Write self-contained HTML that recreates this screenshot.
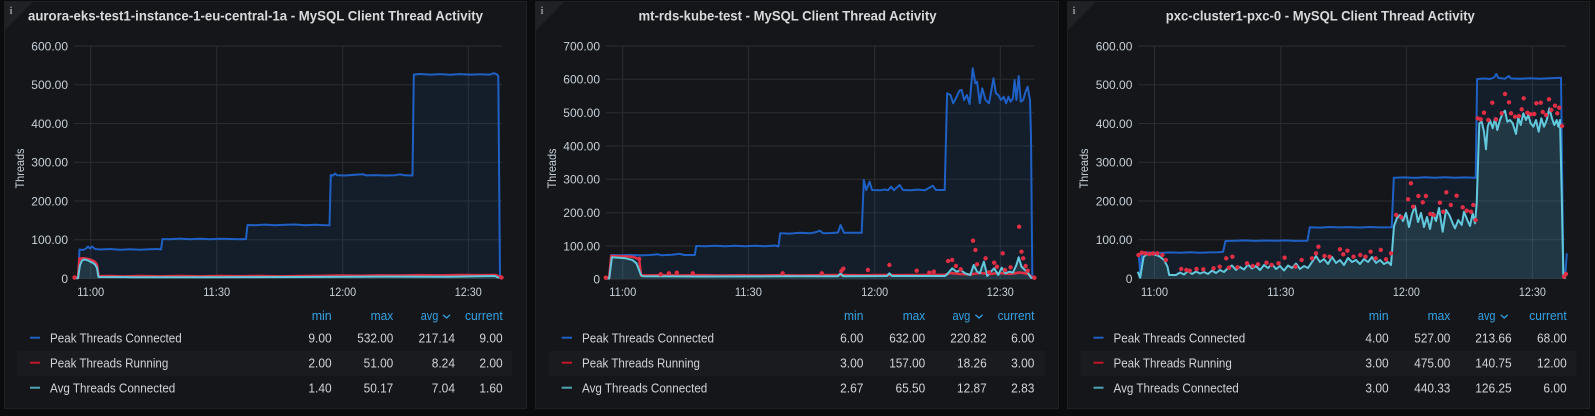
<!DOCTYPE html>
<html><head><meta charset="utf-8"><style>
html,body{margin:0;padding:0;background:#0b0c0e;}
svg{display:block;font-family:"Liberation Sans",sans-serif;}
.t{font-size:14px;font-weight:bold;fill:#d8d9da;}
.yl{font-size:12px;fill:#c7d0d9;text-anchor:end;}
.xl{font-size:12px;fill:#c7d0d9;text-anchor:middle;}
.hd{font-size:13px;fill:#33a2e5;text-anchor:end;}
.nm{font-size:13px;fill:#d0d3d8;}
.v{font-size:13px;fill:#d0d3d8;text-anchor:end;}
.g{stroke:#2b2d31;stroke-width:1;}
.bl{fill:none;stroke:#1f60c4;stroke-width:2;stroke-linejoin:round;}
.ba{fill:#1f60c4;fill-opacity:0.1;stroke:none;}
.cl{fill:none;stroke:#62c8dc;stroke-width:2;stroke-linejoin:round;}
.ca{fill:#6ed0e0;fill-opacity:0.15;stroke:none;}
.rl{fill:none;stroke:#e02f44;stroke-width:2.6;stroke-linejoin:round;}
.rd circle{fill:#e02f44;}
.ic{font-family:"Liberation Serif",serif;font-size:11px;fill:#8e939b;font-weight:bold;}
</style></head><body>
<svg width="1595" height="416" viewBox="0 0 1595 416" xmlns="http://www.w3.org/2000/svg">
<rect x="0" y="0" width="1595" height="416" fill="#0b0c0e"/>
<!-- panels -->
<rect x="4.5" y="1.5" width="522" height="407" fill="#141619" stroke="#1e2024"/>
<rect x="535.5" y="1.5" width="523" height="407" fill="#141619" stroke="#1e2024"/>
<rect x="1067.5" y="1.5" width="522" height="407" fill="#141619" stroke="#1e2024"/>
<polygon points="5,2 33,2 5,30" fill="#1f2125"/>
<polygon points="536,2 564,2 536,30" fill="#1f2125"/>
<polygon points="1068,2 1096,2 1068,30" fill="#1f2125"/>
<text class="ic" x="9.5" y="14">i</text>
<text class="ic" x="540.5" y="14">i</text>
<text class="ic" x="1072.5" y="14">i</text>

<!-- titles -->
<text class="t" x="28" y="20.5" textLength="455" lengthAdjust="spacingAndGlyphs">aurora-eks-test1-instance-1-eu-central-1a - MySQL Client Thread Activity</text>
<text class="t" x="638.5" y="20.5" textLength="298" lengthAdjust="spacingAndGlyphs">mt-rds-kube-test - MySQL Client Thread Activity</text>
<text class="t" x="1165.8" y="20.5" textLength="309" lengthAdjust="spacingAndGlyphs">pxc-cluster1-pxc-0 - MySQL Client Thread Activity</text>

<!-- ===== PANEL 1 ===== -->
<g class="g">
<line x1="74" y1="46" x2="502" y2="46"/><line x1="74" y1="84.75" x2="502" y2="84.75"/><line x1="74" y1="123.5" x2="502" y2="123.5"/><line x1="74" y1="162.25" x2="502" y2="162.25"/><line x1="74" y1="201" x2="502" y2="201"/><line x1="74" y1="239.75" x2="502" y2="239.75"/><line x1="74" y1="278.5" x2="502" y2="278.5"/>
<line x1="90.7" y1="46" x2="90.7" y2="278.5"/><line x1="216.7" y1="46" x2="216.7" y2="278.5"/><line x1="342.7" y1="46" x2="342.7" y2="278.5"/><line x1="468.3" y1="46" x2="468.3" y2="278.5"/>
</g>
<text class="yl" x="68" y="50.3">600.00</text><text class="yl" x="68" y="89">500.00</text><text class="yl" x="68" y="127.8">400.00</text><text class="yl" x="68" y="166.5">300.00</text><text class="yl" x="68" y="205.3">200.00</text><text class="yl" x="68" y="244">100.00</text><text class="yl" x="68" y="282.8">0</text>
<text class="xl" x="90.7" y="296" textLength="27" lengthAdjust="spacingAndGlyphs">11:00</text><text class="xl" x="216.7" y="296" textLength="27" lengthAdjust="spacingAndGlyphs">11:30</text><text class="xl" x="342.7" y="296" textLength="27" lengthAdjust="spacingAndGlyphs">12:00</text><text class="xl" x="468.3" y="296" textLength="27" lengthAdjust="spacingAndGlyphs">12:30</text>
<text x="20" y="168.5" font-size="12" fill="#c7d0d9" text-anchor="middle" dominant-baseline="central" transform="rotate(-90 20 168.5)" textLength="40" lengthAdjust="spacingAndGlyphs">Threads</text>

<path class="ba" d="M74,278 L78,278 L79.5,249.5 L83,250 L86,248.5 L88,246.5 L90,248.5 L92,246.5 L95,249 L100,249.5 L110,249 L120,249.8 L130,249.3 L140,249.8 L150,249.3 L158,249 L161,249.5 L162.5,239 L170,239.3 L180,238.6 L190,239.2 L200,238.7 L210,239.2 L220,238.8 L230,239 L240,239.3 L246,239 L247.5,225 L255,225.3 L265,224.6 L275,225.2 L285,224.8 L295,224.5 L305,225.2 L315,224.8 L325,225.3 L329.5,225.3 L330.8,175 L333,175.6 L335,173.6 L337,175.3 L345,175.5 L355,174.8 L363,174.2 L366,175.4 L375,175.1 L385,175.5 L395,175.2 L400,174.4 L405,175.3 L412.5,175.5 L413.8,74.6 L420,74 L430,74.6 L440,74.1 L450,74.7 L460,74.1 L470,74.6 L480,74.2 L490,74.6 L494,73.2 L497,74.4 L498.3,76 L500,278 L502,278.5 L74,278.5 Z"/>
<path class="ca" d="M74,278.2 L78,278.2 L80,265 L82,260.5 L84,259.5 L87,260 L90,261.5 L93,263 L95,264.5 L97,268 L98.5,277 L130,277.2 L200,277.3 L300,277 L400,276.6 L450,276.8 L480,276.2 L495,276 L499,278 L499,278.5 L74,278.5 Z"/>
<path class="bl" d="M74,278 L78,278 L79.5,249.5 L83,250 L86,248.5 L88,246.5 L90,248.5 L92,246.5 L95,249 L100,249.5 L110,249 L120,249.8 L130,249.3 L140,249.8 L150,249.3 L158,249 L161,249.5 L162.5,239 L170,239.3 L180,238.6 L190,239.2 L200,238.7 L210,239.2 L220,238.8 L230,239 L240,239.3 L246,239 L247.5,225 L255,225.3 L265,224.6 L275,225.2 L285,224.8 L295,224.5 L305,225.2 L315,224.8 L325,225.3 L329.5,225.3 L330.8,175 L333,175.6 L335,173.6 L337,175.3 L345,175.5 L355,174.8 L363,174.2 L366,175.4 L375,175.1 L385,175.5 L395,175.2 L400,174.4 L405,175.3 L412.5,175.5 L413.8,74.6 L420,74 L430,74.6 L440,74.1 L450,74.7 L460,74.1 L470,74.6 L480,74.2 L490,74.6 L494,73.2 L497,74.4 L498.3,76 L500,278 L502,278.3"/>
<path class="rl" d="M74,277.5 L78,277.5 L79.5,258.5 L84,258.3 L88,259 L92,260.2 L95,262 L97,265 L98.5,276.3 L110,276.1 L125,276.5 L140,276 L160,276.4 L180,276.1 L200,276.4 L220,276 L240,276.3 L260,276 L280,276.4 L300,276 L320,275.9 L340,275.6 L360,275.8 L380,275.4 L400,275.6 L420,275.2 L440,275.4 L460,275 L480,275.2 L496,275 L498.5,276.5 L501,277.6"/>
<path class="cl" d="M74,278.2 L78,278.2 L80,265 L82,260.5 L84,259.5 L87,260 L90,261.5 L93,263 L95,264.5 L97,268 L98.5,277 L130,277.2 L200,277.3 L300,277 L400,276.6 L450,276.8 L480,276.2 L495,276 L499,278"/>
<g class="rd"><circle cx="501.5" cy="277.5" r="2.2"/><circle cx="74.5" cy="277.5" r="2.2"/></g>

<!-- legend P1 -->
<rect x="17" y="351" width="495" height="25" fill="#1a1b1f"/>
<text class="hd" x="331.7" y="320" textLength="20" lengthAdjust="spacingAndGlyphs">min</text>
<text class="hd" x="393.3" y="320" textLength="22.7" lengthAdjust="spacingAndGlyphs">max</text>
<text class="hd" x="438.3" y="320" textLength="17.6" lengthAdjust="spacingAndGlyphs">avg</text>
<path d="M443,314.8 L446.5,318 L450,314.8" fill="none" stroke="#33a2e5" stroke-width="1.3"/>
<text class="hd" x="502.7" y="320" textLength="37.7" lengthAdjust="spacingAndGlyphs">current</text>
<line x1="30" y1="337.7" x2="40" y2="337.7" stroke="#1f60c4" stroke-width="2"/>
<line x1="30" y1="362.7" x2="40" y2="362.7" stroke="#c4162a" stroke-width="2"/>
<line x1="30" y1="387.7" x2="40" y2="387.7" stroke="#4fa5b5" stroke-width="2"/>
<text class="nm" x="50" y="342.4" textLength="131.7" lengthAdjust="spacingAndGlyphs">Peak Threads Connected</text>
<text class="nm" x="50" y="367.4" textLength="118.3" lengthAdjust="spacingAndGlyphs">Peak Threads Running</text>
<text class="nm" x="50" y="392.4" textLength="125.3" lengthAdjust="spacingAndGlyphs">Avg Threads Connected</text>
<text class="v" x="331.7" y="342.4" textLength="23.3" lengthAdjust="spacingAndGlyphs">9.00</text>
<text class="v" x="393.3" y="342.4" textLength="36" lengthAdjust="spacingAndGlyphs">532.00</text>
<text class="v" x="455" y="342.4" textLength="36.5" lengthAdjust="spacingAndGlyphs">217.14</text>
<text class="v" x="502.7" y="342.4" textLength="23.3" lengthAdjust="spacingAndGlyphs">9.00</text>
<text class="v" x="331.7" y="367.4" textLength="23.3" lengthAdjust="spacingAndGlyphs">2.00</text>
<text class="v" x="393.3" y="367.4" textLength="29.7" lengthAdjust="spacingAndGlyphs">51.00</text>
<text class="v" x="455" y="367.4" textLength="23.3" lengthAdjust="spacingAndGlyphs">8.24</text>
<text class="v" x="502.7" y="367.4" textLength="23.3" lengthAdjust="spacingAndGlyphs">2.00</text>
<text class="v" x="331.7" y="392.4" textLength="23.3" lengthAdjust="spacingAndGlyphs">1.40</text>
<text class="v" x="393.3" y="392.4" textLength="29.7" lengthAdjust="spacingAndGlyphs">50.17</text>
<text class="v" x="455" y="392.4" textLength="23.3" lengthAdjust="spacingAndGlyphs">7.04</text>
<text class="v" x="502.7" y="392.4" textLength="23.3" lengthAdjust="spacingAndGlyphs">1.60</text>

<!-- ===== PANEL 2 ===== -->
<g class="g">
<line x1="605.8" y1="46" x2="1034.4" y2="46"/><line x1="605.8" y1="79.3" x2="1034.4" y2="79.3"/><line x1="605.8" y1="112.7" x2="1034.4" y2="112.7"/><line x1="605.8" y1="146" x2="1034.4" y2="146"/><line x1="605.8" y1="179.3" x2="1034.4" y2="179.3"/><line x1="605.8" y1="212.7" x2="1034.4" y2="212.7"/><line x1="605.8" y1="246" x2="1034.4" y2="246"/><line x1="605.8" y1="279.3" x2="1034.4" y2="279.3"/>
<line x1="622.8" y1="46" x2="622.8" y2="279.3"/><line x1="748.4" y1="46" x2="748.4" y2="279.3"/><line x1="874.7" y1="46" x2="874.7" y2="279.3"/><line x1="1000.3" y1="46" x2="1000.3" y2="279.3"/>
</g>
<text class="yl" x="600" y="50.3">700.00</text><text class="yl" x="600" y="83.6">600.00</text><text class="yl" x="600" y="117">500.00</text><text class="yl" x="600" y="150.3">400.00</text><text class="yl" x="600" y="183.6">300.00</text><text class="yl" x="600" y="217">200.00</text><text class="yl" x="600" y="250.3">100.00</text><text class="yl" x="600" y="283.6">0</text>
<text class="xl" x="622.8" y="296" textLength="27" lengthAdjust="spacingAndGlyphs">11:00</text><text class="xl" x="748.4" y="296" textLength="27" lengthAdjust="spacingAndGlyphs">11:30</text><text class="xl" x="874.7" y="296" textLength="27" lengthAdjust="spacingAndGlyphs">12:00</text><text class="xl" x="1000.3" y="296" textLength="27" lengthAdjust="spacingAndGlyphs">12:30</text>
<text x="551.8" y="168.5" font-size="12" fill="#c7d0d9" text-anchor="middle" dominant-baseline="central" transform="rotate(-90 551.8 168.5)" textLength="40" lengthAdjust="spacingAndGlyphs">Threads</text>

<path class="ba" d="M605.8,278 L609.2,278 L611.2,255 L620,255.3 L630,254.9 L640,255.4 L650,255 L658,254.3 L662,255.3 L672,254.7 L680,253.8 L684,255 L694.8,255 L696.2,246 L705,246.3 L715,245.7 L725,246.2 L735,245.8 L745,246.3 L755,245.8 L765,246.2 L775,245.5 L778.5,246.5 L780.2,233.3 L790,233.6 L800,232.8 L810,233.3 L815,232.4 L820,230.7 L823,233.3 L832,233 L838,232.5 L840.6,225 L844,232.7 L852,232.7 L861.7,232.7 L863.8,180 L866.2,190 L869.6,181.7 L872,190 L880,190.3 L885,189.5 L888,190.3 L891.1,186.7 L894,190.2 L899.6,185 L903,190 L910,190.3 L918,189.6 L925,190.2 L932.7,185.7 L936,190 L944.7,190 L947.1,93.3 L950.5,95 L953.2,103.3 L956.6,96.7 L959.4,90.7 L961.7,90 L964.1,100 L966.9,95 L969.6,104 L972.7,68.3 L975.4,83.3 L977.1,81.7 L979.8,103.3 L982.2,88.3 L985.6,100 L989,103.3 L991.4,90 L993.5,78.3 L995.9,93.3 L998.3,95 L1001,100 L1003.7,96.7 L1006.1,103.3 L1008.5,96.7 L1010.6,101.7 L1012.9,98.3 L1014.6,80 L1016.4,100 L1018.7,76 L1020.8,101.7 L1023.2,100 L1025.6,91.7 L1027.6,86.7 L1030,100 L1031,136.7 L1032.3,278 L1034.4,279 L605.8,279 Z"/>
<path class="ca" d="M605.8,278.5 L609.2,278.5 L611.9,257.3 L618.7,257.7 L625.6,258.3 L632.4,260 L636.5,263.3 L641,275 L642.6,276.3 L700,276.5 L780,276.3 L838,276.2 L840.6,273.3 L843,276.2 L887,276 L889.4,273.3 L892,276 L945,276 L947.1,274.3 L952.2,268.3 L956.6,271.7 L960.7,270 L965.1,273.3 L970.3,275 L973.7,265 L977.1,271.7 L979.8,273.3 L983.9,261.7 L987.3,276 L990.8,271.7 L994.2,268.3 L998.3,275 L1001.7,267.7 L1005.4,273.3 L1009.5,271.7 L1012.9,272.7 L1016.4,265 L1018.7,257.3 L1021.5,266.7 L1024.9,270 L1028.3,273.3 L1031,277.7 L1034.4,279 L605.8,279 Z"/>
<path class="bl" d="M605.8,278 L609.2,278 L611.2,255 L620,255.3 L630,254.9 L640,255.4 L650,255 L658,254.3 L662,255.3 L672,254.7 L680,253.8 L684,255 L694.8,255 L696.2,246 L705,246.3 L715,245.7 L725,246.2 L735,245.8 L745,246.3 L755,245.8 L765,246.2 L775,245.5 L778.5,246.5 L780.2,233.3 L790,233.6 L800,232.8 L810,233.3 L815,232.4 L820,230.7 L823,233.3 L832,233 L838,232.5 L840.6,225 L844,232.7 L852,232.7 L861.7,232.7 L863.8,180 L866.2,190 L869.6,181.7 L872,190 L880,190.3 L885,189.5 L888,190.3 L891.1,186.7 L894,190.2 L899.6,185 L903,190 L910,190.3 L918,189.6 L925,190.2 L932.7,185.7 L936,190 L944.7,190 L947.1,93.3 L950.5,95 L953.2,103.3 L956.6,96.7 L959.4,90.7 L961.7,90 L964.1,100 L966.9,95 L969.6,104 L972.7,68.3 L975.4,83.3 L977.1,81.7 L979.8,103.3 L982.2,88.3 L985.6,100 L989,103.3 L991.4,90 L993.5,78.3 L995.9,93.3 L998.3,95 L1001,100 L1003.7,96.7 L1006.1,103.3 L1008.5,96.7 L1010.6,101.7 L1012.9,98.3 L1014.6,80 L1016.4,100 L1018.7,76 L1020.8,101.7 L1023.2,100 L1025.6,91.7 L1027.6,86.7 L1030,100 L1031,136.7 L1032.3,278 L1034.4,278"/>
<path class="rl" d="M605.8,277.7 L609.2,277.7 L611.2,256 L620,256.3 L628,256.5 L632.4,256.8 L636,258 L639.2,259.5 L641,275.5 L660,275.3 L680,275.6 L700,275.2 L720,275.5 L740,275.3 L760,275.6 L780,275.2 L800,275.5 L820,275.2 L840,275 L860,275.3 L880,275 L900,275.2 L920,275 L945,274.8 L950,273 L960,274 L970,274.5 L980,273 L990,274 L1000,273 L1010,274 L1020,272.5 L1028,274 L1031,276.5 L1034.4,277.7"/>
<path class="cl" d="M605.8,278.5 L609.2,278.5 L611.9,257.3 L618.7,257.7 L625.6,258.3 L632.4,260 L636.5,263.3 L641,275 L642.6,276.3 L700,276.5 L780,276.3 L838,276.2 L840.6,273.3 L843,276.2 L887,276 L889.4,273.3 L892,276 L945,276 L947.1,274.3 L952.2,268.3 L956.6,271.7 L960.7,270 L965.1,273.3 L970.3,275 L973.7,265 L977.1,271.7 L979.8,273.3 L983.9,261.7 L987.3,276 L990.8,271.7 L994.2,268.3 L998.3,275 L1001.7,267.7 L1005.4,273.3 L1009.5,271.7 L1012.9,272.7 L1016.4,265 L1018.7,257.3 L1021.5,266.7 L1024.9,270 L1028.3,273.3 L1031,277.7 L1034.4,278"/>
<g class="rd">
<circle cx="660.7" cy="274.3" r="2.2"/><circle cx="668.9" cy="273.3" r="2.2"/><circle cx="676.8" cy="272.7" r="2.2"/><circle cx="692.8" cy="273.3" r="2.2"/><circle cx="782.6" cy="273.3" r="2.2"/><circle cx="821.8" cy="273.3" r="2.2"/><circle cx="841.3" cy="271" r="2.2"/><circle cx="843.3" cy="268.7" r="2.2"/><circle cx="867.9" cy="270" r="2.2"/><circle cx="889.4" cy="265" r="2.2"/><circle cx="916.7" cy="270.7" r="2.2"/><circle cx="929.3" cy="272.7" r="2.2"/><circle cx="933.8" cy="271.7" r="2.2"/><circle cx="948.1" cy="261" r="2.2"/><circle cx="952.2" cy="260" r="2.2"/><circle cx="955.9" cy="266" r="2.2"/><circle cx="960.7" cy="269.3" r="2.2"/><circle cx="973" cy="240.7" r="2.2"/><circle cx="975.4" cy="250" r="2.2"/><circle cx="977.1" cy="264.3" r="2.2"/><circle cx="985.6" cy="258.3" r="2.2"/><circle cx="989" cy="272.3" r="2.2"/><circle cx="994.2" cy="262.7" r="2.2"/><circle cx="996.9" cy="266.7" r="2.2"/><circle cx="1002.7" cy="253.3" r="2.2"/><circle cx="1005.1" cy="270" r="2.2"/><circle cx="1010.6" cy="267.3" r="2.2"/><circle cx="1019.1" cy="226.7" r="2.2"/><circle cx="1021.5" cy="251.7" r="2.2"/><circle cx="1023.2" cy="258.3" r="2.2"/><circle cx="1025.6" cy="266" r="2.2"/><circle cx="1027.6" cy="270.7" r="2.2"/><circle cx="1034.4" cy="277.7" r="2.2"/><circle cx="605.8" cy="277.7" r="2.2"/><circle cx="639.2" cy="259" r="2.2"/>
</g>

<!-- legend P2 -->
<rect x="548.8" y="351" width="496" height="25" fill="#1a1b1f"/>
<text class="hd" x="863.4" y="320" textLength="19.4" lengthAdjust="spacingAndGlyphs">min</text>
<text class="hd" x="925.2" y="320" textLength="22.5" lengthAdjust="spacingAndGlyphs">max</text>
<text class="hd" x="970.3" y="320" textLength="17.8" lengthAdjust="spacingAndGlyphs">avg</text>
<path d="M975.4,314.8 L979,318 L982.6,314.8" fill="none" stroke="#33a2e5" stroke-width="1.3"/>
<text class="hd" x="1034.4" y="320" textLength="36.8" lengthAdjust="spacingAndGlyphs">current</text>
<line x1="561.7" y1="337.7" x2="572" y2="337.7" stroke="#1f60c4" stroke-width="2"/>
<line x1="561.7" y1="362.7" x2="572" y2="362.7" stroke="#c4162a" stroke-width="2"/>
<line x1="561.7" y1="387.7" x2="572" y2="387.7" stroke="#4fa5b5" stroke-width="2"/>
<text class="nm" x="582" y="342.4" textLength="132" lengthAdjust="spacingAndGlyphs">Peak Threads Connected</text>
<text class="nm" x="582" y="367.4" textLength="118" lengthAdjust="spacingAndGlyphs">Peak Threads Running</text>
<text class="nm" x="582" y="392.4" textLength="125.3" lengthAdjust="spacingAndGlyphs">Avg Threads Connected</text>
<text class="v" x="863.4" y="342.4" textLength="23.3" lengthAdjust="spacingAndGlyphs">6.00</text>
<text class="v" x="925.2" y="342.4" textLength="36" lengthAdjust="spacingAndGlyphs">632.00</text>
<text class="v" x="986.7" y="342.4" textLength="36.5" lengthAdjust="spacingAndGlyphs">220.82</text>
<text class="v" x="1034.4" y="342.4" textLength="23.3" lengthAdjust="spacingAndGlyphs">6.00</text>
<text class="v" x="863.4" y="367.4" textLength="23.3" lengthAdjust="spacingAndGlyphs">3.00</text>
<text class="v" x="925.2" y="367.4" textLength="36" lengthAdjust="spacingAndGlyphs">157.00</text>
<text class="v" x="986.7" y="367.4" textLength="29.7" lengthAdjust="spacingAndGlyphs">18.26</text>
<text class="v" x="1034.4" y="367.4" textLength="23.3" lengthAdjust="spacingAndGlyphs">3.00</text>
<text class="v" x="863.4" y="392.4" textLength="23.3" lengthAdjust="spacingAndGlyphs">2.67</text>
<text class="v" x="925.2" y="392.4" textLength="29.7" lengthAdjust="spacingAndGlyphs">65.50</text>
<text class="v" x="986.7" y="392.4" textLength="29.7" lengthAdjust="spacingAndGlyphs">12.87</text>
<text class="v" x="1034.4" y="392.4" textLength="23.3" lengthAdjust="spacingAndGlyphs">2.83</text>

<!-- ===== PANEL 3 ===== -->
<g class="g">
<line x1="1138.5" y1="46" x2="1565.8" y2="46"/><line x1="1138.5" y1="84.75" x2="1565.8" y2="84.75"/><line x1="1138.5" y1="123.5" x2="1565.8" y2="123.5"/><line x1="1138.5" y1="162.25" x2="1565.8" y2="162.25"/><line x1="1138.5" y1="201" x2="1565.8" y2="201"/><line x1="1138.5" y1="239.75" x2="1565.8" y2="239.75"/><line x1="1138.5" y1="278.5" x2="1565.8" y2="278.5"/>
<line x1="1154.5" y1="46" x2="1154.5" y2="278.5"/><line x1="1280.8" y1="46" x2="1280.8" y2="278.5"/><line x1="1406.4" y1="46" x2="1406.4" y2="278.5"/><line x1="1532.4" y1="46" x2="1532.4" y2="278.5"/>
</g>
<text class="yl" x="1132.4" y="50.3">600.00</text><text class="yl" x="1132.4" y="89">500.00</text><text class="yl" x="1132.4" y="127.8">400.00</text><text class="yl" x="1132.4" y="166.5">300.00</text><text class="yl" x="1132.4" y="205.3">200.00</text><text class="yl" x="1132.4" y="244">100.00</text><text class="yl" x="1132.4" y="282.8">0</text>
<text class="xl" x="1154.5" y="296" textLength="27" lengthAdjust="spacingAndGlyphs">11:00</text><text class="xl" x="1280.8" y="296" textLength="27" lengthAdjust="spacingAndGlyphs">11:30</text><text class="xl" x="1406.4" y="296" textLength="27" lengthAdjust="spacingAndGlyphs">12:00</text><text class="xl" x="1532.4" y="296" textLength="27" lengthAdjust="spacingAndGlyphs">12:30</text>
<text x="1084.2" y="168.5" font-size="12" fill="#c7d0d9" text-anchor="middle" dominant-baseline="central" transform="rotate(-90 1084.2 168.5)" textLength="40" lengthAdjust="spacingAndGlyphs">Threads</text>

<path class="ba" d="M1138.5,253.3 L1139.5,263.3 L1140.5,276.7 L1141.9,252.7 L1150,252.5 L1160,252.9 L1170,252.4 L1180,252.8 L1190,252.3 L1200,252.7 L1210,252.4 L1218,252.2 L1223.1,251.9 L1225.5,241 L1235,240.8 L1245,240.4 L1255,240.9 L1265,240.5 L1275,240.8 L1285,240.4 L1295,240.9 L1307.4,240.7 L1309.8,227.3 L1320,227.6 L1330,227 L1340,227.4 L1350,227.1 L1360,227.5 L1370,227 L1380,227.4 L1391.7,227.3 L1393.8,177.7 L1405,177.4 L1415,177.9 L1425,177.3 L1435,177.8 L1445,177.3 L1455,177.7 L1465,177.4 L1475.7,177.7 L1477.1,79 L1485,78.5 L1490,79 L1494,77.5 L1496.2,74 L1498.5,78 L1505,78.7 L1508.8,76 L1511,78.5 L1520,78.8 L1530,78.3 L1540,78.7 L1550,78.2 L1561,77.7 L1563.4,277.7 L1565.1,277.7 L1566.8,253.3 L1566.8,278.5 L1138.5,278.5 Z"/>
<path class="ca" d="M1137.8,271.7 L1140.2,277.7 L1143.6,256.7 L1147,254.3 L1153.9,254.3 L1159,256 L1164.1,260 L1167.5,266.7 L1169.2,275 L1176,275 L1180,272.5 L1184,274.5 L1188,271 L1192,274 L1196,271.5 L1200,273.5 L1204,272 L1208,274 L1212,270.5 L1216,273 L1220,270 L1224,272 L1228,268 L1232,265.5 L1236,270 L1240,267 L1244,269.5 L1248,264.5 L1252,268.5 L1256,266 L1260,270 L1264,265 L1268,268 L1272,264 L1276,269 L1280,266 L1284,270.5 L1288,265.5 L1292,268 L1296,263.5 L1300,269 L1304,266 L1308,268 L1312,262 L1316,256 L1320,262 L1324,259 L1328,264 L1332,257 L1336,263 L1340,260 L1344,265 L1348,258 L1352,262 L1356,260 L1360,264 L1364,259 L1368,262 L1372,257 L1376,263 L1380,260 L1384,264 L1388,262 L1391,265 L1394,226 L1397,218 L1400,215 L1403,221 L1406,213 L1409,227 L1412,214 L1415,206 L1418,222 L1421,213 L1424,227 L1427,217 L1430,229 L1433,213 L1436,221 L1439,208 L1442.7,231.7 L1446,210 L1449.3,215 L1452.7,223.3 L1455,228.3 L1458.3,220 L1461.7,225 L1464,211.7 L1467.3,220 L1470,226 L1472.7,213.3 L1475,223.3 L1476.7,203.3 L1479.3,123.3 L1481.7,121.7 L1484,131.7 L1486,149.3 L1487.7,126.7 L1490,120 L1492.7,128.3 L1495,118.3 L1497.3,130 L1500,120 L1502.7,113.3 L1505,110.7 L1507.3,121.7 L1510,120 L1512.7,123.3 L1516,134 L1518.3,117.3 L1520.7,125 L1523.3,113.3 L1526,120 L1528.3,115 L1530.7,123.3 L1533.3,126.7 L1536,120 L1538.7,131.7 L1541.3,118.3 L1544,126.7 L1546.7,120 L1549.3,108.3 L1552,118.3 L1554.3,125 L1556.7,120 L1558.3,126.7 L1560,120 L1561.7,193.3 L1563.3,273.3 L1564.3,278.5 L1137.8,278.5 Z"/>
<path class="bl" d="M1138.5,253.3 L1139.5,263.3 L1140.5,276.7 L1141.9,252.7 L1150,252.5 L1160,252.9 L1170,252.4 L1180,252.8 L1190,252.3 L1200,252.7 L1210,252.4 L1218,252.2 L1223.1,251.9 L1225.5,241 L1235,240.8 L1245,240.4 L1255,240.9 L1265,240.5 L1275,240.8 L1285,240.4 L1295,240.9 L1307.4,240.7 L1309.8,227.3 L1320,227.6 L1330,227 L1340,227.4 L1350,227.1 L1360,227.5 L1370,227 L1380,227.4 L1391.7,227.3 L1393.8,177.7 L1405,177.4 L1415,177.9 L1425,177.3 L1435,177.8 L1445,177.3 L1455,177.7 L1465,177.4 L1475.7,177.7 L1477.1,79 L1485,78.5 L1490,79 L1494,77.5 L1496.2,74 L1498.5,78 L1505,78.7 L1508.8,76 L1511,78.5 L1520,78.8 L1530,78.3 L1540,78.7 L1550,78.2 L1561,77.7 L1563.4,277.7 L1565.1,277.7 L1566.8,253.3"/>
<path class="cl" d="M1137.8,271.7 L1140.2,277.7 L1143.6,256.7 L1147,254.3 L1153.9,254.3 L1159,256 L1164.1,260 L1167.5,266.7 L1169.2,275 L1176,275 L1180,272.5 L1184,274.5 L1188,271 L1192,274 L1196,271.5 L1200,273.5 L1204,272 L1208,274 L1212,270.5 L1216,273 L1220,270 L1224,272 L1228,268 L1232,265.5 L1236,270 L1240,267 L1244,269.5 L1248,264.5 L1252,268.5 L1256,266 L1260,270 L1264,265 L1268,268 L1272,264 L1276,269 L1280,266 L1284,270.5 L1288,265.5 L1292,268 L1296,263.5 L1300,269 L1304,266 L1308,268 L1312,262 L1316,256 L1320,262 L1324,259 L1328,264 L1332,257 L1336,263 L1340,260 L1344,265 L1348,258 L1352,262 L1356,260 L1360,264 L1364,259 L1368,262 L1372,257 L1376,263 L1380,260 L1384,264 L1388,262 L1391,265 L1394,226 L1397,218 L1400,215 L1403,221 L1406,213 L1409,227 L1412,214 L1415,206 L1418,222 L1421,213 L1424,227 L1427,217 L1430,229 L1433,213 L1436,221 L1439,208 L1442.7,231.7 L1446,210 L1449.3,215 L1452.7,223.3 L1455,228.3 L1458.3,220 L1461.7,225 L1464,211.7 L1467.3,220 L1470,226 L1472.7,213.3 L1475,223.3 L1476.7,203.3 L1479.3,123.3 L1481.7,121.7 L1484,131.7 L1486,149.3 L1487.7,126.7 L1490,120 L1492.7,128.3 L1495,118.3 L1497.3,130 L1500,120 L1502.7,113.3 L1505,110.7 L1507.3,121.7 L1510,120 L1512.7,123.3 L1516,134 L1518.3,117.3 L1520.7,125 L1523.3,113.3 L1526,120 L1528.3,115 L1530.7,123.3 L1533.3,126.7 L1536,120 L1538.7,131.7 L1541.3,118.3 L1544,126.7 L1546.7,120 L1549.3,108.3 L1552,118.3 L1554.3,125 L1556.7,120 L1558.3,126.7 L1560,120 L1561.7,193.3 L1563.3,273.3 L1564.3,278 L1565.8,278"/>
<g class="rd">
<circle cx="1138.5" cy="255" r="2.2"/><circle cx="1141.9" cy="252.7" r="2.2"/><circle cx="1145.3" cy="253.3" r="2.2"/><circle cx="1149.4" cy="254" r="2.2"/><circle cx="1153" cy="253.5" r="2.2"/><circle cx="1157.3" cy="253.3" r="2.2"/><circle cx="1162.4" cy="255" r="2.2"/><circle cx="1165.8" cy="260" r="2.2"/><circle cx="1181.2" cy="269" r="2.2"/><circle cx="1186.3" cy="270" r="2.2"/><circle cx="1189.7" cy="270.7" r="2.2"/><circle cx="1196.5" cy="269" r="2.2"/><circle cx="1203.3" cy="269.3" r="2.2"/><circle cx="1213.6" cy="268.3" r="2.2"/><circle cx="1219.7" cy="266.7" r="2.2"/><circle cx="1226.2" cy="258.3" r="2.2"/><circle cx="1229" cy="267.7" r="2.2"/><circle cx="1232.4" cy="256.7" r="2.2"/><circle cx="1237.5" cy="267.3" r="2.2"/><circle cx="1247" cy="263.3" r="2.2"/><circle cx="1252.8" cy="266" r="2.2"/><circle cx="1258" cy="264.3" r="2.2"/><circle cx="1266.5" cy="262.7" r="2.2"/><circle cx="1271.6" cy="265" r="2.2"/><circle cx="1278.4" cy="263.3" r="2.2"/><circle cx="1284.6" cy="257.7" r="2.2"/><circle cx="1295.5" cy="266.7" r="2.2"/><circle cx="1301.6" cy="260" r="2.2"/><circle cx="1311.9" cy="258.3" r="2.2"/><circle cx="1316" cy="253.3" r="2.2"/><circle cx="1318.4" cy="246.7" r="2.2"/><circle cx="1324.5" cy="256" r="2.2"/><circle cx="1329.6" cy="256.7" r="2.2"/><circle cx="1339.9" cy="249.3" r="2.2"/><circle cx="1343.3" cy="254.3" r="2.2"/><circle cx="1347.4" cy="250.7" r="2.2"/><circle cx="1353.5" cy="256.7" r="2.2"/><circle cx="1360.3" cy="255" r="2.2"/><circle cx="1365.5" cy="256.7" r="2.2"/><circle cx="1370.6" cy="251.7" r="2.2"/><circle cx="1375.7" cy="258.3" r="2.2"/><circle cx="1380.8" cy="250" r="2.2"/><circle cx="1386" cy="259.3" r="2.2"/><circle cx="1391" cy="253.3" r="2.2"/><circle cx="1396.2" cy="215" r="2.2"/><circle cx="1401.3" cy="217.3" r="2.2"/><circle cx="1408.1" cy="199.3" r="2.2"/><circle cx="1410.9" cy="183.3" r="2.2"/><circle cx="1413.2" cy="206.7" r="2.2"/><circle cx="1418.4" cy="196" r="2.2"/><circle cx="1422.8" cy="202.3" r="2.2"/><circle cx="1425.9" cy="196" r="2.2"/><circle cx="1430.3" cy="214" r="2.2"/><circle cx="1433.7" cy="215" r="2.2"/><circle cx="1439.9" cy="202.7" r="2.2"/><circle cx="1443.3" cy="211.7" r="2.2"/><circle cx="1446.3" cy="192.3" r="2.2"/><circle cx="1450.8" cy="205" r="2.2"/><circle cx="1456.6" cy="195.7" r="2.2"/><circle cx="1462.7" cy="207.3" r="2.2"/><circle cx="1466.7" cy="210.7" r="2.2"/><circle cx="1471" cy="211.7" r="2.2"/><circle cx="1473.3" cy="205" r="2.2"/><circle cx="1475.7" cy="220" r="2.2"/><circle cx="1477.7" cy="118.3" r="2.2"/><circle cx="1480.7" cy="119.3" r="2.2"/><circle cx="1484" cy="112.7" r="2.2"/><circle cx="1488.3" cy="120" r="2.2"/><circle cx="1492.3" cy="102.7" r="2.2"/><circle cx="1496" cy="119.3" r="2.2"/><circle cx="1501.7" cy="113.3" r="2.2"/><circle cx="1505" cy="94" r="2.2"/><circle cx="1509" cy="102.3" r="2.2"/><circle cx="1511" cy="113.3" r="2.2"/><circle cx="1515" cy="116.7" r="2.2"/><circle cx="1519" cy="116" r="2.2"/><circle cx="1521.7" cy="109.3" r="2.2"/><circle cx="1523.7" cy="98.3" r="2.2"/><circle cx="1527.3" cy="112.7" r="2.2"/><circle cx="1530.7" cy="114.3" r="2.2"/><circle cx="1534.3" cy="114" r="2.2"/><circle cx="1536.3" cy="103.3" r="2.2"/><circle cx="1540.7" cy="102.7" r="2.2"/><circle cx="1542.7" cy="112" r="2.2"/><circle cx="1546" cy="115" r="2.2"/><circle cx="1549" cy="99.3" r="2.2"/><circle cx="1551.3" cy="110" r="2.2"/><circle cx="1555" cy="105.7" r="2.2"/><circle cx="1557.3" cy="113.3" r="2.2"/><circle cx="1559.3" cy="107.7" r="2.2"/><circle cx="1562" cy="126" r="2.2"/><circle cx="1564" cy="276.7" r="2.2"/><circle cx="1566" cy="274" r="2.2"/>
</g>

<!-- legend P3 -->
<rect x="1080.5" y="351" width="496" height="25" fill="#1a1b1f"/>
<text class="hd" x="1388.7" y="320" textLength="20" lengthAdjust="spacingAndGlyphs">min</text>
<text class="hd" x="1450.3" y="320" textLength="22.7" lengthAdjust="spacingAndGlyphs">max</text>
<text class="hd" x="1495.5" y="320" textLength="17.6" lengthAdjust="spacingAndGlyphs">avg</text>
<path d="M1500.7,314.8 L1504.2,318 L1507.7,314.8" fill="none" stroke="#33a2e5" stroke-width="1.3"/>
<text class="hd" x="1566.7" y="320" textLength="37.4" lengthAdjust="spacingAndGlyphs">current</text>
<line x1="1093.5" y1="337.7" x2="1103.5" y2="337.7" stroke="#1f60c4" stroke-width="2"/>
<line x1="1093.5" y1="362.7" x2="1103.5" y2="362.7" stroke="#c4162a" stroke-width="2"/>
<line x1="1093.5" y1="387.7" x2="1103.5" y2="387.7" stroke="#4fa5b5" stroke-width="2"/>
<text class="nm" x="1113.5" y="342.4" textLength="131.7" lengthAdjust="spacingAndGlyphs">Peak Threads Connected</text>
<text class="nm" x="1113.5" y="367.4" textLength="118.3" lengthAdjust="spacingAndGlyphs">Peak Threads Running</text>
<text class="nm" x="1113.5" y="392.4" textLength="125.3" lengthAdjust="spacingAndGlyphs">Avg Threads Connected</text>
<text class="v" x="1388.7" y="342.4" textLength="23.3" lengthAdjust="spacingAndGlyphs">4.00</text>
<text class="v" x="1450.3" y="342.4" textLength="36" lengthAdjust="spacingAndGlyphs">527.00</text>
<text class="v" x="1511.7" y="342.4" textLength="36.5" lengthAdjust="spacingAndGlyphs">213.66</text>
<text class="v" x="1566.7" y="342.4" textLength="29.7" lengthAdjust="spacingAndGlyphs">68.00</text>
<text class="v" x="1388.7" y="367.4" textLength="23.3" lengthAdjust="spacingAndGlyphs">3.00</text>
<text class="v" x="1450.3" y="367.4" textLength="36" lengthAdjust="spacingAndGlyphs">475.00</text>
<text class="v" x="1511.7" y="367.4" textLength="36.5" lengthAdjust="spacingAndGlyphs">140.75</text>
<text class="v" x="1566.7" y="367.4" textLength="29.7" lengthAdjust="spacingAndGlyphs">12.00</text>
<text class="v" x="1388.7" y="392.4" textLength="23.3" lengthAdjust="spacingAndGlyphs">3.00</text>
<text class="v" x="1450.3" y="392.4" textLength="36" lengthAdjust="spacingAndGlyphs">440.33</text>
<text class="v" x="1511.7" y="392.4" textLength="36.5" lengthAdjust="spacingAndGlyphs">126.25</text>
<text class="v" x="1566.7" y="392.4" textLength="23.3" lengthAdjust="spacingAndGlyphs">6.00</text>
</svg>
</body></html>
